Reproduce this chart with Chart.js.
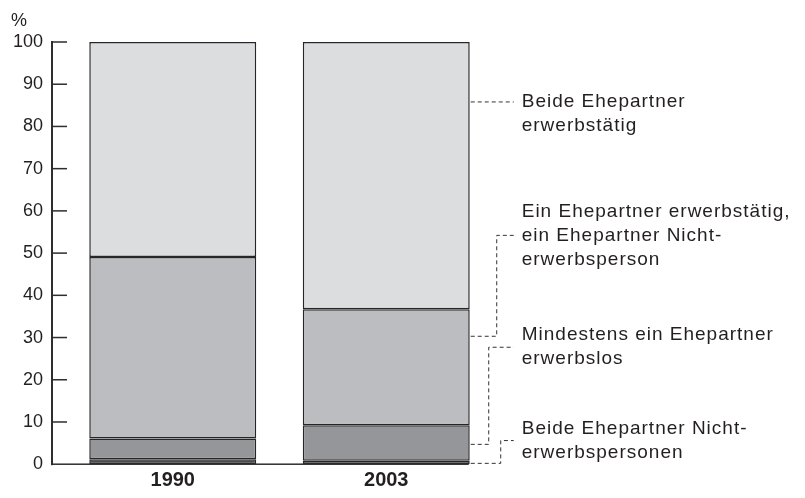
<!DOCTYPE html>
<html>
<head>
<meta charset="utf-8">
<script src="https://cdn.jsdelivr.net/npm/chart.js@4"></script>
<style>
  body { margin: 0; background: #fff; }
  canvas { display: block; }
</style>
</head>
<body>
<canvas id="chart" width="805" height="498"></canvas>
<script>
const categories = ['1990', '2003'];

// shares in %, bottom to top
const beideNichtErwerbspersonen = [1.2, 0.8];
const mindestensEinErwerbslos = [4.9, 8.4];
const einErwerbstaetigEinNicht = [43.0, 27.5];
const beideErwerbstaetig = [50.9, 63.3];

// labels on the right, top to bottom
const labelTexts = [
    ['Beide Ehepartner', 'erwerbstätig'],
    ['Ein Ehepartner erwerbstätig,', 'ein Ehepartner Nicht-', 'erwerbsperson'],
    ['Mindestens ein Ehepartner', 'erwerbslos'],
    ['Beide Ehepartner Nicht-', 'erwerbspersonen']
];
const leaderFrom = [85.8, 30.3, 4.7, 0.2];   // value on the 2003 bar
const leaderTo = [85.8, 54.2, 27.7, 5.6];    // value where the leader meets the label
const leaderLine = [0, 1, 0.5, 0.5];         // which text line the leader points at
const elbowOffset = [30, 27, 19, 31];

const textColor = '#231f20';
const fontFamily = '"Liberation Sans", Arial, sans-serif';

const axisPlugin = {
    id: 'axisPlugin',
    afterDatasetsDraw(chart) {
        const { ctx, chartArea, scales } = chart;
        const y = scales.y;
        const axisX = chartArea.left - 14;
        const bars = chart.getDatasetMeta(0).data;
        const last = bars[bars.length - 1];
        const right = last.x + last.width / 2;
        const top = y.getPixelForValue(100);
        const bottom = y.getPixelForValue(0);

        ctx.save();
        ctx.fillStyle = '#2e2e2e';
        // vertical axis and baseline
        ctx.fillRect(axisX - 1, top - 1, 2, bottom - top + 2);
        ctx.fillRect(axisX - 1, bottom - 0.75, right - axisX, 1.5);
        // tick marks pointing into the plot
        y.ticks.forEach(t => {
            if (t.value === 0) return;
            const py = y.getPixelForValue(t.value);
            ctx.fillRect(axisX, py - 0.75, 15, 1.5);
        });

        ctx.fillStyle = textColor;
        ctx.font = '18px ' + fontFamily;
        ctx.textAlign = 'left';
        ctx.textBaseline = 'middle';
        ctx.fillText('%', 11, 21);
        ctx.restore();
    },
    afterDraw(chart) {
        const { ctx, scales } = chart;
        const y = scales.y;
        const bars = chart.getDatasetMeta(0).data;
        const last = bars[bars.length - 1];
        const barRight = last.x + last.width / 2;
        const textX = barRight + 52;
        const lineH = 24;

        ctx.save();
        ctx.strokeStyle = '#333';
        ctx.lineWidth = 1;
        ctx.setLineDash([4, 3]);
        ctx.fillStyle = textColor;
        ctx.font = '19px ' + fontFamily;
        ctx.letterSpacing = '1px';
        ctx.textAlign = 'left';
        ctx.textBaseline = 'middle';

        labelTexts.forEach((lines, i) => {
            const y0 = y.getPixelForValue(leaderFrom[i]);
            const y1 = y.getPixelForValue(leaderTo[i]);
            const ex = barRight + elbowOffset[i];
            ctx.beginPath();
            ctx.moveTo(barRight + 1, y0);
            ctx.lineTo(ex, y0);
            ctx.lineTo(ex, y1);
            ctx.lineTo(textX - 8, y1);
            ctx.stroke();

            const firstY = y1 - leaderLine[i] * lineH;
            lines.forEach((s, j) => ctx.fillText(s, textX, firstY + j * lineH));
        });
        ctx.restore();
    }
};

function barSet(label, data, color) {
    return {
        label: label,
        data: data,
        backgroundColor: color,
        borderColor: '#262626',
        borderWidth: 1.5,
        borderSkipped: false,
        inflateAmount: 0,
        categoryPercentage: 1,
        barPercentage: 0.782
    };
}

new Chart(document.getElementById('chart').getContext('2d'), {
    type: 'bar',
    data: {
        labels: categories,
        datasets: [
            barSet('Beide Ehepartner Nichterwerbspersonen', beideNichtErwerbspersonen, '#4b4b4d'),
            barSet('Mindestens ein Ehepartner erwerbslos', mindestensEinErwerbslos, '#959699'),
            barSet('Ein Ehepartner erwerbstätig, ein Ehepartner Nichterwerbsperson', einErwerbstaetigEinNicht, '#bcbdc0'),
            barSet('Beide Ehepartner erwerbstätig', beideErwerbstaetig, '#dcdddf')
        ]
    },
    options: {
        responsive: false,
        animation: false,
        devicePixelRatio: 1,
        layout: { padding: { top: 42, right: 312, bottom: 0, left: 0 } },
        plugins: {
            legend: { display: false },
            tooltip: { enabled: false }
        },
        scales: {
            x: {
                stacked: true,
                grid: { display: false, drawTicks: false },
                border: { display: false },
                ticks: {
                    color: textColor,
                    padding: 4,
                    font: { family: fontFamily, size: 20, weight: 'bold' }
                },
                afterFit(scale) { scale.height = 26; }
            },
            y: {
                stacked: true,
                min: 0,
                max: 100,
                grid: { display: false, drawTicks: false },
                border: { display: false },
                ticks: {
                    stepSize: 10,
                    color: textColor,
                    padding: 23,
                    font: { family: fontFamily, size: 18 }
                },
                afterFit(scale) { scale.width = 66; }
            }
        }
    },
    plugins: [axisPlugin]
});
</script>
</body>
</html>
